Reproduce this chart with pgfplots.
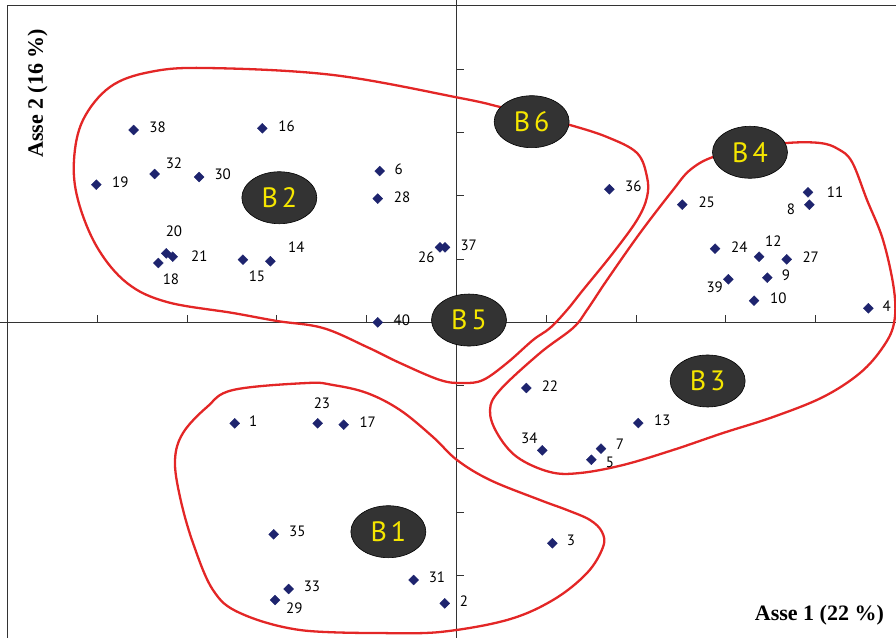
\documentclass[border=0pt]{standalone}
\usepackage{pgfplots}
\usepackage{pgfplotstable}
\pgfplotsset{compat=1.18}
\usepackage{fontspec}
\setmainfont{PT Sans}
\newfontfamily\titlefont{Liberation Serif}
\usetikzlibrary{shapes.geometric}
\definecolor{navy}{HTML}{1E246E}
\definecolor{curvered}{HTML}{E32626}
\definecolor{ellfill}{HTML}{333333}
\definecolor{byellow}{HTML}{F5E600}
\tikzset{
  redcurve/.style={curvered, line width=2.3pt, smooth, tension=0.6, mark=none},
  bnode/.style={ellipse, draw=black, line width=0.6pt, fill=ellfill, minimum width=75pt, minimum height=52pt, inner sep=0pt, text=byellow, font=\fontsize{28}{28}\selectfont},
}

\pgfplotstableread{
x y lab dx dy
-2.470 -1.596 1 18.6 2.6
-0.131 -4.439 2 19.3 2.6
1.067 -3.491 3 18.7 2.6
4.586 0.221 4 18.4 2.3
1.501 -2.171 5 18.7 -3
-0.855 2.390 6 19 2
1.609 -1.997 7 19 4
3.929 1.858 8 -18.3 -4.6
3.461 0.705 9 18.7 2.4
3.313 0.341 10 24.3 2.4
3.914 2.054 11 27 0.6
3.369 1.036 12 14.3 16
2.024 -1.591 13 24 2.3
-2.073 0.964 14 26 14.6
-2.378 0.989 15 14 -16.3
-2.163 3.065 16 24.4 2.3
-1.256 -1.618 17 24 3
-3.321 0.937 18 12.7 -16.3
-4.011 2.174 19 24 2
-3.232 1.090 20 7.7 21.6
-3.160 1.036 21 26.6 0.7
0.777 -1.038 22 23.7 2
-1.546 -1.596 23 4.3 19.6
2.879 1.163 24 24.3 2
2.514 1.858 25 24.4 2
-0.184 1.185 26 -13.7 -10.4
3.677 0.995 27 24 2
-0.877 1.953 28 24.3 1.7
-2.021 -4.387 29 19.3 -8.3
-2.867 2.295 30 23.7 2.3
-0.477 -4.071 31 23.3 2.3
-3.361 2.343 32 19.3 10.3
-1.869 -4.213 33 23.3 2.3
0.955 -2.022 34 -13 11.6
-2.036 -3.349 35 23.6 2.6
1.702 2.101 36 24 2.6
-0.128 1.185 37 23.7 2.3
-3.595 3.038 38 24 2.3
3.027 0.679 39 -13.6 -8
-0.877 0.000 40 24 2.3
}\pointdata

\pgfplotstableread{
px py
535 116
570 125
607 137
637 153
647 177
647 197
637 220
613 253
583 290
567 310
550 328
533 340
507 363
483 380
463 383
440 380
400 363
367 347
323 328
277 321
233 313
167 302
127 283
97 247
78 200
74 160
83 120
110 87
150 72
207 68
333 75
460 98
500 107
535 116
}\curveA

\pgfplotstableread{
px py
750 149
713 157
690 170
673 190
640 233
607 280
587 310
573 328
540 353
500 390
490 410
497 433
517 457
550 472
580 473
623 465
673 450
723 433
773 417
823 397
860 373
883 347
894 323
894 290
883 240
867 200
852 162
838 149
820 143
787 143
750 149
}\curveB

\pgfplotstableread{
px py
383 633
300 630
240 613
213 590
193 543
180 497
175 460
183 433
207 407
233 390
307 383
333 385
367 393
400 410
433 437
457 460
490 480
540 500
567 510
590 520
602 532
603 547
587 573
553 600
507 620
440 632
383 633
}\curveC

\begin{document}
\begin{tikzpicture}
\begin{axis}[
  width=896pt, height=638pt, scale only axis,
  xmin=-5.0835, xmax=4.894, ymin=-4.987, ymax=5.0916,
  axis lines=center,
  axis line style={-, black!80, line width=0.9pt},
  xtick={-4,-3,-2,-1,1,2,3,4}, ytick={-4,-3,-2,-1,1,2,3,4},
  xticklabels={}, yticklabels={},
  tick align=inside,
  major tick length=7pt,
  tick style={black!80, line width=0.9pt},
  clip=false,
]
% frame
\draw[black!80, line width=1.2pt] (axis cs:-5,-4.987) -- (axis cs:-5,5) -- (axis cs:4.894,5);

\addplot[redcurve] table[x expr={(\thisrow{px}-456.5)/89.8}, y expr={(322.3-\thisrow{py})/63.3}] {\curveA};
\addplot[redcurve] table[x expr={(\thisrow{px}-456.5)/89.8}, y expr={(322.3-\thisrow{py})/63.3}] {\curveB};
\addplot[redcurve] table[x expr={(\thisrow{px}-456.5)/89.8}, y expr={(322.3-\thisrow{py})/63.3}] {\curveC};

\addplot[only marks, mark=square*, mark size=3.5pt,
  mark options={rotate=45, fill=navy, draw=navy},
  point meta=explicit symbolic,
  visualization depends on={\thisrow{dx} \as \dx},
  visualization depends on={\thisrow{dy} \as \dy},
  nodes near coords,
  every node near coord/.append style={anchor=center, inner sep=0pt, xshift=\dx pt, yshift=\dy pt, font=\fontsize{15}{15}\selectfont, text=black}]
  table[x=x, y=y, meta=lab] {\pointdata};

\node[bnode] at (axis cs:0.837,3.169) {B\kern4pt 6};
\node[bnode] at (axis cs:3.268,2.686) {B\kern4pt 4};
\node[bnode] at (axis cs:0.139,0.036) {B\kern4pt 5};
\node[bnode] at (axis cs:2.797,-0.927) {B\kern4pt 3};
\node[bnode] at (axis cs:-0.759,-3.308) {B\kern4pt 1};
\node[bnode] at (axis cs:-1.973,1.968) {B\kern4pt 2};

\node[anchor=base east, inner sep=0pt, font=\titlefont\bfseries\fontsize{22}{22}\selectfont] at (axis cs:4.761,-4.709) {Asse 1 (22 \%)};
\node[anchor=base west, rotate=90, inner sep=0pt, font=\titlefont\bfseries\fontsize{22}{22}\selectfont] at (axis cs:-4.605,2.596) {Asse 2 (16 \%)};
\end{axis}
\pgfresetboundingbox
\useasboundingbox (current axis.south west) rectangle (current axis.north east);
\end{tikzpicture}
\end{document}
